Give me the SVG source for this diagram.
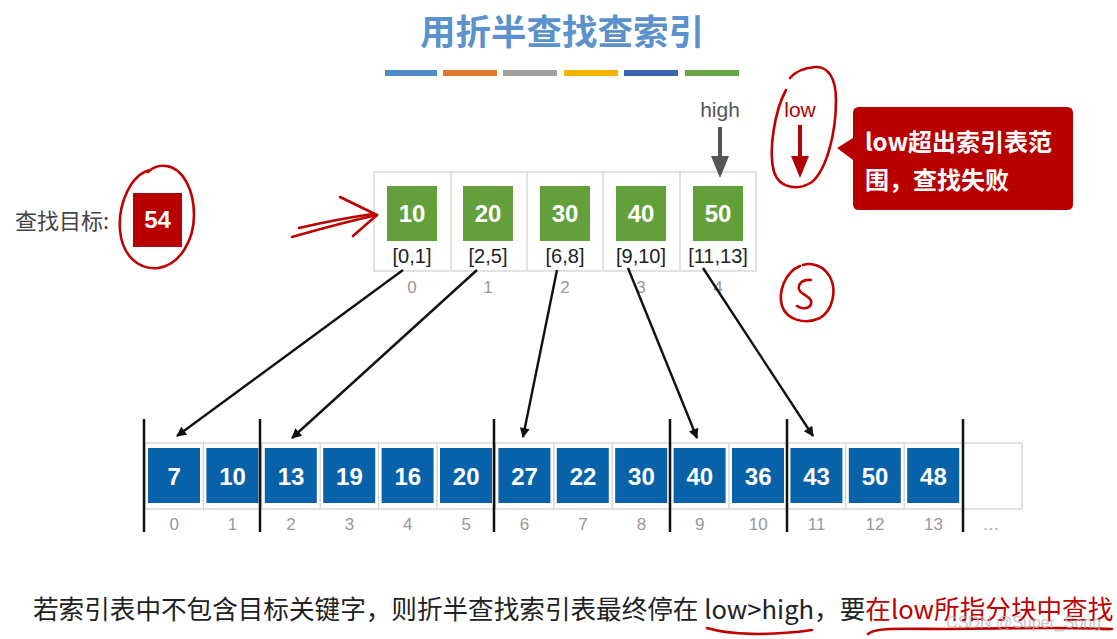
<svg xmlns="http://www.w3.org/2000/svg" width="1117" height="639" viewBox="0 0 1117 639">
<style>
.sans{font-family:"Liberation Sans","Noto Sans CJK SC",sans-serif}
.cjk{font-family:"Noto Sans CJK SC","Liberation Sans",sans-serif}
.gsq{fill:#63a03c}
.bsq{fill:#0862a9}
.wn{font-family:"Liberation Sans",sans-serif;font-weight:bold;font-size:24px;fill:#fff;text-anchor:middle}
.idx{font-family:"Liberation Sans",sans-serif;font-size:17px;fill:#999;text-anchor:middle}
.rng{font-family:"Liberation Sans",sans-serif;font-size:20px;fill:#222;text-anchor:middle}
.cell{fill:none;stroke:#cfcfcf;stroke-width:1.2}
.blk{stroke:#111;stroke-width:2.5}
.conn{stroke:#111;stroke-width:2.4;fill:none;marker-end:url(#ah)}
.hand{fill:none;stroke:#c00000;stroke-width:2.6;stroke-linecap:round;stroke-linejoin:round}
</style>
<defs>
<marker id="ah" viewBox="0 0 10 10" refX="9" refY="5" markerWidth="12" markerHeight="10" orient="auto" markerUnits="userSpaceOnUse">
<path d="M0,0 L10,5 L0,10 z" fill="#111"/>
</marker>
</defs>
<rect width="1117" height="639" fill="#fff"/>

<g id="title">
<text x="562" y="45" class="cjk" font-size="35.5" font-weight="bold" fill="#5b92cb" text-anchor="middle">用折半查找查索引</text>
<rect x="385" y="70" width="52" height="6" fill="#4f8ac9"/>
<rect x="443" y="70" width="54" height="6" fill="#e0782a"/>
<rect x="503" y="70" width="54" height="6" fill="#a0a0a0"/>
<rect x="564" y="70" width="54" height="6" fill="#f4b400"/>
<rect x="624" y="70" width="54" height="6" fill="#3a63b0"/>
<rect x="685" y="70" width="54" height="6" fill="#68a743"/>
</g>

<g id="target">
<text x="15" y="229" class="cjk" font-size="22" fill="#444">查找目标:</text>
<rect x="133" y="193" width="49" height="54" fill="#b80000"/>
<text x="157.5" y="228" class="wn" font-size="22">54</text>
<path class="hand" d="M150,170 C130,175 118,205 120,230 C122,255 138,270 158,268 C180,265 194,240 194,215 C194,190 183,168 166,166 C158,165 152,168 148,172"/>
</g>

<g id="index-table">
<rect x="374" y="172" width="382" height="99" class="cell"/>
<line x1="451" y1="172" x2="451" y2="271" class="cell"/>
<line x1="527" y1="172" x2="527" y2="271" class="cell"/>
<line x1="603" y1="172" x2="603" y2="271" class="cell"/>
<line x1="680" y1="172" x2="680" y2="271" class="cell"/>
<g id="idx0"><rect x="387" y="186" width="50" height="55" class="gsq"/><text x="412" y="222" class="wn">10</text><text x="412" y="263" class="rng">[0,1]</text><text x="412" y="293" class="idx">0</text></g>
<g id="idx1"><rect x="463" y="186" width="50" height="55" class="gsq"/><text x="488" y="222" class="wn">20</text><text x="488" y="263" class="rng">[2,5]</text><text x="488" y="293" class="idx">1</text></g>
<g id="idx2"><rect x="540" y="186" width="50" height="55" class="gsq"/><text x="565" y="222" class="wn">30</text><text x="565" y="263" class="rng">[6,8]</text><text x="565" y="293" class="idx">2</text></g>
<g id="idx3"><rect x="616" y="186" width="50" height="55" class="gsq"/><text x="641" y="222" class="wn">40</text><text x="641" y="263" class="rng">[9,10]</text><text x="641" y="293" class="idx">3</text></g>
<g id="idx4"><rect x="693" y="186" width="50" height="55" class="gsq"/><text x="718" y="222" class="wn">50</text><text x="718" y="263" class="rng">[11,13]</text><text x="718" y="293" class="idx">4</text></g>
</g>

<g id="high">
<text x="720" y="117" class="sans" font-size="21" fill="#555" text-anchor="middle">high</text>
<rect x="718" y="127" width="4" height="32" fill="#555"/>
<path d="M711,156 L729,156 L720,178 z" fill="#555"/>
</g>

<g id="low">
<text x="800" y="117" class="sans" font-size="21" fill="#b30000" text-anchor="middle">low</text>
<rect x="798" y="125" width="4" height="34" fill="#b30000"/>
<path d="M791,156 L809,156 L800,178 z" fill="#b30000"/>
<path class="hand" d="M786,90 C775,110 768,150 774,172 C780,190 800,190 812,182 C826,170 836,135 836,100 C836,78 828,66 815,67 C804,68 795,72 790,78"/>
</g>

<g id="callout">
<path d="M859,107 H1067 Q1073,107 1073,113 V204 Q1073,210 1067,210 H859 Q853,210 853,204 V160 L837,148 L853,138 V113 Q853,107 859,107 z" fill="#b80000"/>
<text x="865" y="151" class="cjk" font-size="24" font-weight="bold" fill="#fff">low超出索引表范</text>
<text x="865" y="189" class="cjk" font-size="24" font-weight="bold" fill="#fff">围，查找失败</text>
</g>

<g id="s-mark">
<path class="hand" d="M800,266 C785,272 778,292 782,306 C787,320 805,325 820,318 C833,310 837,290 830,277 C824,266 812,262 803,265"/>
<path class="hand" d="M811,280 C800,279 795,288 802,293 C808,297 814,300 810,306 C806,310 800,308 797,306"/>
</g>

<g id="hand-arrow">
<path class="hand" d="M292,237 C320,229 350,221 377,215"/>
<path class="hand" d="M299,228 C325,222 352,217 373,214"/>
<path class="hand" d="M340,197 L377,215 L353,236"/>
</g>

<g id="main-array">
<rect x="145" y="443" width="877" height="66" class="cell"/>
<line x1="203.4" y1="443" x2="203.4" y2="509" class="cell"/>
<line x1="261.8" y1="443" x2="261.8" y2="509" class="cell"/>
<line x1="320.2" y1="443" x2="320.2" y2="509" class="cell"/>
<line x1="378.6" y1="443" x2="378.6" y2="509" class="cell"/>
<line x1="437" y1="443" x2="437" y2="509" class="cell"/>
<line x1="495.4" y1="443" x2="495.4" y2="509" class="cell"/>
<line x1="553.8" y1="443" x2="553.8" y2="509" class="cell"/>
<line x1="612.2" y1="443" x2="612.2" y2="509" class="cell"/>
<line x1="670.6" y1="443" x2="670.6" y2="509" class="cell"/>
<line x1="729" y1="443" x2="729" y2="509" class="cell"/>
<line x1="787.4" y1="443" x2="787.4" y2="509" class="cell"/>
<line x1="845.8" y1="443" x2="845.8" y2="509" class="cell"/>
<line x1="904.2" y1="443" x2="904.2" y2="509" class="cell"/>
<line x1="962.6" y1="443" x2="962.6" y2="509" class="cell"/>
<g id="a0"><rect x="148" y="448" width="52" height="55" class="bsq"/><text x="174.2" y="485" class="wn">7</text><text x="174.2" y="530" class="idx">0</text></g>
<g id="a1"><rect x="206.4" y="448" width="52" height="55" class="bsq"/><text x="232.6" y="485" class="wn">10</text><text x="232.6" y="530" class="idx">1</text></g>
<g id="a2"><rect x="264.8" y="448" width="52" height="55" class="bsq"/><text x="291" y="485" class="wn">13</text><text x="291" y="530" class="idx">2</text></g>
<g id="a3"><rect x="323.2" y="448" width="52" height="55" class="bsq"/><text x="349.4" y="485" class="wn">19</text><text x="349.4" y="530" class="idx">3</text></g>
<g id="a4"><rect x="381.6" y="448" width="52" height="55" class="bsq"/><text x="407.8" y="485" class="wn">16</text><text x="407.8" y="530" class="idx">4</text></g>
<g id="a5"><rect x="440" y="448" width="52" height="55" class="bsq"/><text x="466.2" y="485" class="wn">20</text><text x="466.2" y="530" class="idx">5</text></g>
<g id="a6"><rect x="498.4" y="448" width="52" height="55" class="bsq"/><text x="524.6" y="485" class="wn">27</text><text x="524.6" y="530" class="idx">6</text></g>
<g id="a7"><rect x="556.8" y="448" width="52" height="55" class="bsq"/><text x="583" y="485" class="wn">22</text><text x="583" y="530" class="idx">7</text></g>
<g id="a8"><rect x="615.2" y="448" width="52" height="55" class="bsq"/><text x="641.4" y="485" class="wn">30</text><text x="641.4" y="530" class="idx">8</text></g>
<g id="a9"><rect x="673.6" y="448" width="52" height="55" class="bsq"/><text x="699.8" y="485" class="wn">40</text><text x="699.8" y="530" class="idx">9</text></g>
<g id="a10"><rect x="732" y="448" width="52" height="55" class="bsq"/><text x="758.2" y="485" class="wn">36</text><text x="758.2" y="530" class="idx">10</text></g>
<g id="a11"><rect x="790.4" y="448" width="52" height="55" class="bsq"/><text x="816.6" y="485" class="wn">43</text><text x="816.6" y="530" class="idx">11</text></g>
<g id="a12"><rect x="848.8" y="448" width="52" height="55" class="bsq"/><text x="875" y="485" class="wn">50</text><text x="875" y="530" class="idx">12</text></g>
<g id="a13"><rect x="907.2" y="448" width="52" height="55" class="bsq"/><text x="933.4" y="485" class="wn">48</text><text x="933.4" y="530" class="idx">13</text></g>
<text x="991" y="530" class="idx">…</text>
<line x1="144" y1="419" x2="144" y2="532" class="blk"/>
<line x1="260" y1="419" x2="260" y2="532" class="blk"/>
<line x1="494" y1="419" x2="494" y2="532" class="blk"/>
<line x1="670" y1="419" x2="670" y2="532" class="blk"/>
<line x1="787" y1="419" x2="787" y2="532" class="blk"/>
<line x1="963" y1="419" x2="963" y2="532" class="blk"/>
</g>

<g id="connectors">
<line x1="403" y1="270" x2="177" y2="436" class="conn"/>
<line x1="477" y1="270" x2="292" y2="438" class="conn"/>
<line x1="557" y1="270" x2="523" y2="437" class="conn"/>
<line x1="628" y1="268" x2="697" y2="438" class="conn"/>
<line x1="703" y1="268" x2="813" y2="436" class="conn"/>
</g>

<g id="caption">
<text x="33" y="619" class="cjk" font-size="25.6" fill="#222">若索引表中不包含目标关键字，则折半查找索引表最终停在 low&gt;high，要<tspan fill="#c00000">在low所指分块中查找</tspan></text>
<path class="hand" d="M707,628 C730,635 770,636 812,630"/>
<path class="hand" d="M868,634 C876,627 900,629 950,629 C1010,628 1070,627 1112,629"/>
<text x="1110" y="628" class="sans" font-size="16" fill="#b5b5b5" fill-opacity="0.8" text-anchor="end">CSDN @Super_Song_</text>
</g>
</svg>
